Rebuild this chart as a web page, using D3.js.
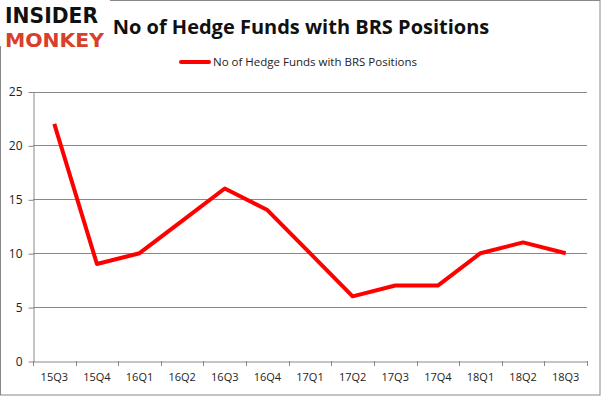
<!DOCTYPE html>
<html>
<head>
<meta charset="utf-8">
<script src="https://cdn.jsdelivr.net/npm/d3@7"></script>
<style>
  body { margin: 0; background: #fff; }
  text { font-family: "Open Sans", "DejaVu Sans", sans-serif; }
</style>
</head>
<body>
<div id="chart"></div>
<script>
let quarters = ["15Q3", "15Q4", "16Q1", "16Q2", "16Q3", "16Q4", "17Q1", "17Q2", "17Q3", "17Q4", "18Q1", "18Q2", "18Q3"];
let funds = [22, 9, 10, 13, 16, 14, 10, 6, 7, 7, 10, 11, 10];
let yTicks = [0, 5, 10, 15, 20, 25];
let seriesName = "No of Hedge Funds with BRS Positions";

let width = 601, height = 396;
let plotLeft = 33, plotRight = 587, plotTop = 91.5, plotBottom = 361;

let svg = d3.select("#chart").append("svg")
    .attr("width", width)
    .attr("height", height);

// outer frame
svg.append("rect")
    .attr("x", 0.5).attr("y", 0.5)
    .attr("width", width - 1.5).attr("height", height - 1.5)
    .style("fill", "none")
    .style("stroke", "#888");

let x = d3.scaleBand().domain(quarters).range([plotLeft, plotRight]);
let y = d3.scaleLinear().domain([0, 25]).range([plotBottom, plotTop]);

// gridlines
svg.selectAll()
    .data(yTicks.slice(1))
    .enter()
    .append("line")
    .attr("x1", plotLeft).attr("x2", plotRight)
    .attr("y1", function (d) { return Math.round(y(d)) + 0.5 })
    .attr("y2", function (d) { return Math.round(y(d)) + 0.5 })
    .style("stroke", "#888");

// y axis
let yAxis = svg.append("g")
    .attr("transform", "translate(" + (plotLeft + 0.5) + ",0.5)")
    .call(d3.axisLeft(y).tickValues(yTicks).tickSize(5).tickSizeOuter(0));
yAxis.select(".domain").style("stroke", "#888");
yAxis.selectAll(".tick line").style("stroke", "#888");
yAxis.selectAll(".tick text")
    .attr("x", -11)
    .style("font-size", "12px")
    .style("fill", "#222")
    .style("font-family", "'Open Sans', sans-serif");

// x axis
let xAxis = svg.append("g")
    .attr("transform", "translate(0," + (plotBottom + 0.5) + ")")
    .call(d3.axisBottom(x).tickSize(0).tickSizeOuter(0));
xAxis.select(".domain").style("stroke", "#888");
xAxis.selectAll(".tick text")
    .attr("y", 12)
    .style("font-size", "11px")
    .style("fill", "#222")
    .style("font-family", "'Open Sans', sans-serif");
svg.selectAll()
    .data(quarters.concat(["end"]))
    .enter()
    .append("line")
    .attr("x1", function (d, i) { return Math.round(plotLeft + i * x.bandwidth()) + 0.5 })
    .attr("x2", function (d, i) { return Math.round(plotLeft + i * x.bandwidth()) + 0.5 })
    .attr("y1", plotBottom)
    .attr("y2", plotBottom + 5)
    .style("stroke", "#888");

// series line
let line = d3.line()
    .x(function (d, i) { return x(quarters[i]) + x.bandwidth() / 2 })
    .y(function (d) { return y(d) });
svg.append("path")
    .datum(funds)
    .attr("d", line)
    .style("fill", "none")
    .style("stroke", "#ff0000")
    .style("stroke-width", 4)
    .style("stroke-linejoin", "round");

// title
svg.append("text")
    .attr("x", 301).attr("y", 34)
    .attr("text-anchor", "middle")
    .style("font-size", "20px")
    .style("font-weight", "bold")
    .style("fill", "#111")
    .text("No of Hedge Funds with BRS Positions");

// legend
svg.append("line")
    .attr("x1", 181).attr("x2", 209)
    .attr("y1", 62).attr("y2", 62)
    .style("stroke", "#ff0000")
    .style("stroke-width", 4)
    .style("stroke-linecap", "round");
svg.append("text")
    .attr("x", 213).attr("y", 66)
    .style("font-size", "11.5px")
    .style("fill", "#222")
    .text(seriesName);

// logo
svg.append("rect")
    .attr("x", 0).attr("y", 0).attr("width", 110).attr("height", 46)
    .style("fill", "#fff");
svg.append("text")
    .attr("x", 5).attr("y", 23)
    .attr("textLength", 93).attr("lengthAdjust", "spacingAndGlyphs")
    .style("font-family", "'DejaVu Sans', sans-serif")
    .style("font-size", "22px")
    .style("font-weight", "900")
    .style("fill", "#111")
    .text("INSIDER");
svg.append("text")
    .attr("x", 5).attr("y", 47)
    .attr("textLength", 99).attr("lengthAdjust", "spacingAndGlyphs")
    .style("font-family", "'DejaVu Sans', sans-serif")
    .style("font-size", "20px")
    .style("font-weight", "900")
    .style("fill", "#d9402b")
    .text("MONKEY");
</script>
</body>
</html>
